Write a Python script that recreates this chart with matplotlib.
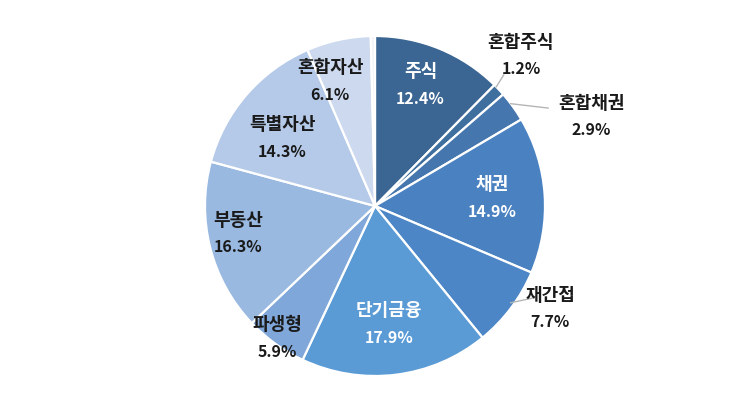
import matplotlib
matplotlib.use("Agg")
import matplotlib.pyplot as plt
import numpy as np

plt.rcParams["font.family"] = ["Noto Sans CJK KR", "DejaVu Sans"]

# fund type shares (%), clockwise from 12 o'clock; last slice is the unlabeled remainder
categories = ["주식", "혼합주식", "혼합채권", "채권", "재간접", "단기금융",
              "파생형", "부동산", "특별자산", "혼합자산", ""]
shares = [12.4, 1.2, 2.9, 14.9, 7.7, 17.9, 5.9, 16.3, 14.3, 6.1, 0.4]
pct_labels = ["12.4%", "1.2%", "2.9%", "14.9%", "7.7%", "17.9%",
              "5.9%", "16.3%", "14.3%", "6.1%", ""]

colors = ["#3b6592", "#3f6f9f", "#4576ad", "#4a81c1", "#4d86c6", "#5b9bd5",
          "#7fa7d9", "#99b9e1", "#b5cae8", "#cdd9ee", "#f2f4f8"]
text_colors = ["white", "#1a1a1a", "#1a1a1a", "white", "#1a1a1a", "white",
               "#1a1a1a", "#1a1a1a", "#1a1a1a", "#1a1a1a", "#1a1a1a"]

# label placement: (angle offset from wedge middle in degrees, radius)
label_pos = [(2, 0.77), (3, 1.24), (-13, 1.38), (1, 0.69), (7, 1.19), (0, 0.69),
             (-1, 0.96), (-3.5, 0.82), (4, 0.68), (7, 0.79), (0, 0)]
# leader lines for outside labels: index -> ((start angle, radius), (end angle, radius))
leaders = {1: ((44.5, 1.0), (45.5, 1.08)),
           2: ((37.0, 1.0), (29.5, 1.17)),
           4: ((-35.5, 0.98), (-30.0, 1.08))}

PX = 170.0  # pie radius in pixels
fig = plt.figure(figsize=(7.45, 4.14), dpi=100)
ax = fig.add_axes([0, 0, 1, 1])

wedges, _ = ax.pie(shares, colors=colors, startangle=90, counterclock=False,
                   radius=1.0, wedgeprops=dict(edgecolor="white", linewidth=1.6))
ax.set_xlim(-375 / PX, 370 / PX)
ax.set_ylim(-207 / PX, 207 / PX)
ax.set_aspect("auto")
ax.axis("off")

for i, w in enumerate(wedges):
    if not categories[i]:
        continue
    mid = 0.5 * (w.theta1 + w.theta2)
    off, r = label_pos[i]
    a = np.deg2rad(mid + off)
    x, y = r * np.cos(a), r * np.sin(a)
    ax.text(x, y + 0.075, categories[i], ha="center", va="center",
            fontsize=13, fontweight="bold", color=text_colors[i])
    ax.text(x, y - 0.085, pct_labels[i], ha="center", va="center",
            fontsize=11.5, fontweight="bold", color=text_colors[i])

for i, ((a0, r0), (a1, r1)) in leaders.items():
    t0, t1 = np.deg2rad(a0), np.deg2rad(a1)
    ax.plot([r0 * np.cos(t0), r1 * np.cos(t1)], [r0 * np.sin(t0), r1 * np.sin(t1)],
            color="#b5b5b5", linewidth=1.0)

fig.savefig("out.png", dpi=100)
